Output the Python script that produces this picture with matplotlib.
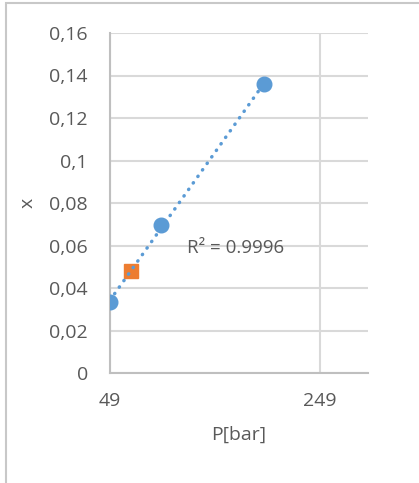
import numpy as np
import matplotlib.pyplot as plt
from matplotlib.patches import Rectangle

# data
p_blue = [49, 98, 196]
x_blue = [0.0334, 0.0696, 0.136]
p_orange = [69]
x_orange = [0.048]
yticks = [0, 0.02, 0.04, 0.06, 0.08, 0.1, 0.12, 0.14, 0.16]
ytick_labels = ['0', '0,02', '0,04', '0,06', '0,08', '0,1', '0,12', '0,14', '0,16']
xticks = [49, 249]
r2_text = 'R² = 0.9996'

txt = '#595959'
grid = '#d9d9d9'
blue = '#5B9BD5'
orange = '#ED7D31'

plt.rcParams['font.family'] = ['Open Sans', 'DejaVu Sans']

fig = plt.figure(figsize=(4.19, 4.83), dpi=100)
fig.patches.append(Rectangle((6 / 419, -0.1), 1.2, 1.1 - 3 / 483, transform=fig.transFigure,
                             fill=False, edgecolor='#c8c8c8', linewidth=1.5))
ax = fig.add_axes([110 / 419, 1 - 373 / 483, 258 / 419, 340 / 483])

# linear trendline
k, b = np.polyfit(p_blue, x_blue, 1)
xs = np.array([p_blue[0], p_blue[-1]])
ax.plot(xs, k * xs + b, color=blue, linestyle=(0, (0.1, 2.2)), linewidth=2.5,
        dash_capstyle='round', zorder=4)

ax.plot(p_blue, x_blue, 'o', color=blue, markersize=10.5, zorder=3)
ax.plot(p_orange, x_orange, 's', color=orange, markersize=9.5, zorder=3)

ax.text(122, 0.0588, r2_text, color=txt, fontsize=13.5, va='center')

ax.set_xlim(49, 295)
ax.set_ylim(0, 0.16)
ax.set_xticks(xticks)
ax.set_xticklabels([str(v) for v in xticks])
ax.set_yticks(yticks)
ax.set_yticklabels(ytick_labels)
ax.tick_params(length=0, colors=txt, labelsize=14)
ax.tick_params(axis='x', pad=14)
ax.tick_params(axis='y', pad=16)
ax.grid(True, color=grid, linewidth=1.5)
ax.set_axisbelow(True)
for s in ['top', 'right']:
    ax.spines[s].set_visible(False)
for s in ['left', 'bottom']:
    ax.spines[s].set_color('#bfbfbf')
    ax.spines[s].set_linewidth(1.5)

ax.set_xlabel('P[bar]', color=txt, fontsize=14)
ax.set_ylabel('x', color=txt, fontsize=14)
ax.xaxis.set_label_coords(0.5, -0.155)
ax.yaxis.set_label_coords(-0.285, 0.5)

fig.savefig('out.png', dpi=100)
